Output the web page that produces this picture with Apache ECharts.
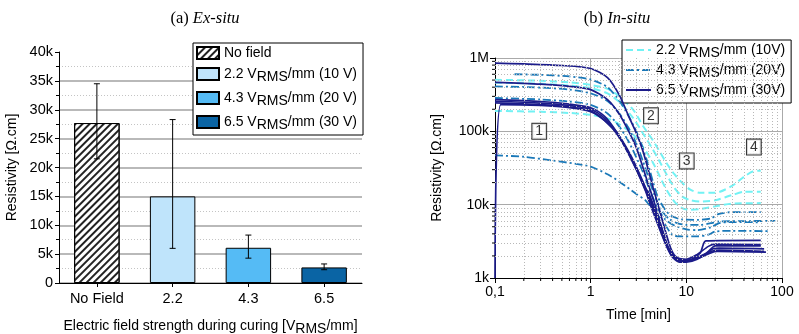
<!DOCTYPE html>
<html><head><meta charset="utf-8">
<script src="https://cdn.jsdelivr.net/npm/echarts@6/dist/echarts.min.js"></script>
<style>html,body{margin:0;padding:0;background:#fff}#c{width:799px;height:334px}</style>
</head><body><div id="c"></div>
<script>
// ---------- Left panel data (Ex-situ) ----------
const barCategories = ['No Field', '2.2', '4.3', '6.5'];
const barSeriesNames = ['No field', '2.2 VRMS/mm (10 V)', '4.3 VRMS/mm (20 V)', '6.5 VRMS/mm (30 V)'];
const barValues = [27700, 15000, 6100, 2700];
const errLow = [21500, 6000, 4300, 2300];
const errHigh = [34500, 28300, 8300, 3300];

// ---------- Right panel data (In-situ), [time min, resistivity ohm.cm] ----------
const curves22 = [
  [[0.1,505000],[0.3,490000],[0.6,465000],[1,430000],[1.5,380000],[2,300000],[2.8,195000],[3.5,120000],[4.45,76000],[5.3,52000],[6.2,37000],[7.5,26000],[9,20000],[11,16000],[14,14500],[20,14500],[30,18000],[40,24000],[50,28500],[60,29000]],
  [[0.1,460000],[0.3,445000],[0.6,420000],[1,390000],[1.5,330000],[2,250000],[2.8,150000],[3.5,95000],[4.45,57000],[5.3,38000],[6.2,26000],[7.5,17000],[9,13000],[11,11500],[14,11000],[20,11500],[30,13500],[40,15000],[60,15000]],
  [[0.1,190000],[0.3,185000],[0.6,178000],[1,168000],[1.5,150000],[2,125000],[2.8,90000],[3.5,62000],[4.45,38000],[5.3,24000],[6.2,16000],[7.5,11000],[9,9000],[11,8500],[14,8700],[20,9500],[30,10300],[60,10500]]
];
const curves43 = [
  [[0.16,600000],[0.3,590000],[0.6,560000],[1,510000],[1.5,400000],[2,260000],[2.5,160000],[3,100000],[3.5,60000],[4,35000],[4.5,20000],[5,13000],[6,8500],[7,7000],[9,6300],[13,6200],[18,6500],[22,7500],[30,7900],[60,7900]],
  [[0.1,410000],[0.3,395000],[0.6,370000],[1,330000],[1.5,260000],[2,175000],[2.5,110000],[3,68000],[3.5,40000],[4,24000],[4.6,14000],[5.3,9000],[6.5,6500],[8,5600],[10,5300],[14,5300],[18,5600],[22,5900],[85,6000]],
  [[0.1,285000],[0.3,272000],[0.6,255000],[1,230000],[1.5,175000],[2,115000],[2.5,72000],[3,44000],[3.6,26000],[4.2,15000],[5,9000],[6,6300],[7.5,5200],[10,4600],[13,4500],[18,4900],[22,5600],[30,5800],[60,5750]],
  [[0.1,47000],[0.2,45000],[0.4,40000],[0.7,36000],[1,33000],[1.5,26000],[2,20600],[3,14000],[3.7,11600],[4.5,8500],[5.7,5900],[7.3,3800],[9,3700],[13,3700],[17,3900],[20,4300],[30,4400],[75,4350]]
];
const curves65 = [
  [[0.1,850000],[0.2,830000],[0.5,790000],[1,720000],[1.5,540000],[2,310000],[2.5,160000],[3,95000],[3.5,55000],[4,30000],[4.5,17000],[5,10500],[6,4500],[7,2400],[8,1900],[10,1800],[13,2100],[17,2700],[20,2900],[60,2850]],
  [[0.1,466000],[0.3,440000],[0.6,410000],[1,370000],[1.5,270000],[2,170000],[2.5,100000],[3,60000],[3.5,33000],[4,19000],[4.6,11000],[5.5,5000],[6.5,2500],[7.5,1900],[9,1700],[11,1750],[14,2200],[16,3200],[60,3250]],
  [[0.1,270000],[0.3,255000],[0.6,235000],[1,210000],[1.4,160000],[1.8,105000],[2.3,60000],[3,30000],[3.7,16000],[4.2,10000],[5,5500],[6,3000],[7,2000],[8.5,1650],[10,1650],[13,1800],[17,2300],[20,2750],[60,2750]],
  [[0.1,257000],[0.3,243000],[0.6,225000],[1,200000],[1.4,150000],[1.9,95000],[2.4,55000],[3.1,28000],[3.8,15000],[4.4,9500],[5.2,5000],[6.2,2800],[7.3,1900],[9,1700],[11,1750],[15,2000],[19,2500],[22,2550],[65,2500]],
  [[0.1,245000],[0.3,232000],[0.6,215000],[1,190000],[1.4,140000],[2,85000],[2.6,48000],[3.3,25000],[4,14000],[4.6,9000],[5.5,4500],[6.5,2500],[8,1800],[10,1750],[13,1900],[18,2300],[22,2400],[65,2300]],
  [[0.1,1000],[0.115,232000],[0.3,225000],[0.6,210000],[1,185000],[1.5,130000],[2,82000],[2.6,46000],[3.3,24000],[3.8,16000],[4,15000],[4.5,10000],[5.5,4800],[6.5,2600],[8,1800],[10,1700],[14,1900],[18,2200],[21,2300],[68,2250]]
];
const lineSeriesNames = ['2.2 VRMS/mm (10V)', '4.3 VRMS/mm (20V)', '6.5 VRMS/mm (30V)'];
const annotLabels = ['1', '2', '3', '4'];
const annotTime = [0.29, 4.27, 10.1, 50.8];
const annotRes = [100000, 163000, 39500, 61000];
const minorTimes = [0.2,0.3,0.4,0.5,0.6,0.7,0.8,0.9,2,3,4,5,6,7,8,9,20,30,40,50,60,70,80,90];
const minorRes = [2000,3000,4000,5000,6000,7000,8000,9000,20000,30000,40000,50000,60000,70000,80000,90000,200000,300000,400000,500000,600000,700000,800000,900000];

// ---------- styling ----------
const SANS = 'Liberation Sans, Arial, sans-serif';
const SERIF = 'Liberation Serif, Times New Roman, serif';
const barColors = ['#ffffff', '#bfe4fb', '#55bbf5', '#0a64a4'];
const lineColors = ['#72f2f4', '#1a78b8', '#1c1c8a'];
const lineTypes = [[7, 4], [8, 3, 2, 3], 'solid'];
const lineWidths = [2, 1.8, 1.7];
const subRich = { s: { fontSize: 14, fontFamily: SANS, color: '#000', padding: [6, 0, 0, 0], verticalAlign: 'bottom' } };
const richName = n => n.replace('VRMS', 'V{s|RMS}');

const series = [];
// bars (stacked so each sits in its own category)
barSeriesNames.forEach((name, i) => {
  const item = { type: 'bar', name, stack: 'b', xAxisIndex: 0, yAxisIndex: 0, barWidth: '60%',
    data: barValues.map((v, j) => j === i ? v : '-'),
    itemStyle: { color: barColors[i], borderColor: '#000', borderWidth: 1 } };
  if (i === 0) item.itemStyle.decal = { symbol: 'rect', symbolSize: 1, dashArrayX: [1, 0], dashArrayY: [1.3, 2.4], rotation: -Math.PI / 4, color: '#222' };
  series.push(item);
});
// error bars
series.push({ type: 'custom', xAxisIndex: 0, yAxisIndex: 0, z: 5, silent: true,
  data: barValues.map((v, i) => [i, errLow[i], errHigh[i]]),
  encode: { x: 0, y: [1, 2] },
  renderItem: (params, api) => {
    const lo = api.coord([api.value(0), api.value(1)]);
    const hi = api.coord([api.value(0), api.value(2)]);
    const w = 3, st = { stroke: '#000', lineWidth: 1 };
    return { type: 'group', children: [
      { type: 'line', shape: { x1: lo[0], y1: lo[1], x2: hi[0], y2: hi[1] }, style: st },
      { type: 'line', shape: { x1: lo[0] - w, y1: lo[1], x2: lo[0] + w, y2: lo[1] }, style: st },
      { type: 'line', shape: { x1: hi[0] - w, y1: hi[1], x2: hi[0] + w, y2: hi[1] }, style: st }
    ] };
  } });
// minor grid on right (dotted) via markLine
series.push({ type: 'line', xAxisIndex: 1, yAxisIndex: 1, data: [], silent: true, z: 1,
  markLine: { silent: true, symbol: 'none', label: { show: false }, animation: false,
    lineStyle: { type: [1, 2], color: '#b8b8b8', width: 1 },
    data: minorTimes.map(v => ({ xAxis: v })).concat(minorRes.map(v => ({ yAxis: v }))) } });
// minor ticks on right axes
series.push({ type: 'custom', xAxisIndex: 1, yAxisIndex: 1, silent: true, clip: false, z: 6,
  data: minorRes.map(v => [0.1, v]),
  renderItem: (params, api) => {
    const p = api.coord([api.value(0), api.value(1)]);
    return { type: 'line', shape: { x1: p[0] - 3, y1: p[1], x2: p[0], y2: p[1] }, style: { stroke: '#000', lineWidth: 1 } };
  } });
series.push({ type: 'custom', xAxisIndex: 1, yAxisIndex: 1, silent: true, clip: false, z: 6,
  data: minorTimes.map(v => [v, 1000]),
  renderItem: (params, api) => {
    const p = api.coord([api.value(0), api.value(1)]);
    return { type: 'line', shape: { x1: p[0], y1: p[1], x2: p[0], y2: p[1] + 3 }, style: { stroke: '#000', lineWidth: 1 } };
  } });
// curves
[curves22, curves43, curves65].forEach((group, g) => {
  group.forEach(pts => series.push({ type: 'line', name: lineSeriesNames[g], xAxisIndex: 1, yAxisIndex: 1,
    data: pts, symbol: 'none', showSymbol: false, smooth: 0.25, z: 2 + g,
    lineStyle: { color: lineColors[g], width: lineWidths[g], type: lineTypes[g] },
    itemStyle: { color: lineColors[g] } }));
});
// boxed annotations
series.push({ type: 'scatter', xAxisIndex: 1, yAxisIndex: 1, symbolSize: 0, z: 10, silent: true,
  data: annotLabels.map((t, i) => ({ value: [annotTime[i], annotRes[i]], label: { formatter: t } })),
  label: { show: true, position: 'inside', fontFamily: SANS, fontSize: 14, color: '#000',
    backgroundColor: '#fff', borderColor: '#000', borderWidth: 1, padding: [1, 3, 0, 3] } });

const titleStyle = { fontFamily: SERIF, fontSize: 16.5, fontWeight: 'normal', color: '#000',
  rich: { i: { fontFamily: SERIF, fontSize: 16.5, fontStyle: 'italic', color: '#000' } } };
const option = {
  animation: false,
  backgroundColor: '#fff',
  title: [
    { text: '(a) {i|Ex-situ}', left: 200, top: 5, textAlign: 'center', textStyle: titleStyle },
    { text: '(b) {i|In-situ}', left: 612, top: 5, textAlign: 'center', textStyle: titleStyle }
  ],
  legend: [
    { data: barSeriesNames, orient: 'vertical', left: 193, top: 43, padding: [3, 6, 3, 3], itemGap: 7,
      itemWidth: 22, itemHeight: 12, icon: 'rect', borderColor: '#000', borderWidth: 1, backgroundColor: '#fff',
      selectedMode: false, formatter: richName,
      textStyle: { fontFamily: SANS, fontSize: 14, color: '#000', rich: subRich } },
    { data: lineSeriesNames, orient: 'vertical', left: 622, top: 40, padding: [3, 6, 3, 3], itemGap: 3,
      itemWidth: 25, itemHeight: 14, borderColor: '#000', borderWidth: 1, backgroundColor: '#fff',
      itemStyle: { opacity: 0 },
      selectedMode: false, formatter: richName,
      textStyle: { fontFamily: SANS, fontSize: 14, color: '#000', rich: subRich } }
  ],
  grid: [
    { left: 59, top: 52, width: 303, height: 231, outerBoundsMode: 'none', containLabel: false },
    { left: 495, top: 58, width: 287, height: 220, outerBoundsMode: 'none', containLabel: false }
  ],
  xAxis: [
    { type: 'category', gridIndex: 0, data: barCategories,
      name: 'Electric field strength during curing [V{s|RMS}/mm]', nameLocation: 'middle', nameGap: 33,
      nameTextStyle: { fontFamily: SANS, fontSize: 14, color: '#000', rich: subRich },
      axisLine: { lineStyle: { color: '#000', width: 1 } },
      axisTick: { show: true, alignWithLabel: true, length: 4, lineStyle: { color: '#000' } },
      axisLabel: { fontFamily: SANS, fontSize: 14.5, color: '#000', margin: 8 } },
    { type: 'log', gridIndex: 1, min: 0.1, max: 100, logBase: 10,
      name: 'Time [min]', nameLocation: 'middle', nameGap: 30,
      nameTextStyle: { fontFamily: SANS, fontSize: 14, color: '#000' },
      axisLine: { show: true, onZero: false, lineStyle: { color: '#000' } },
      axisTick: { show: true, length: 5, lineStyle: { color: '#000' } },
      splitLine: { show: true, lineStyle: { color: '#aaaaaa', width: 1 } },
      axisLabel: { fontFamily: SANS, fontSize: 14, color: '#000', margin: 7,
        formatter: v => { const e = Math.round(Math.log10(v)); return e < 0 ? '0,1' : String(Math.pow(10, e)); } } }
  ],
  yAxis: [
    { type: 'value', gridIndex: 0, min: 0, max: 40000, interval: 5000,
      name: 'Resistivity [Ω.cm]', nameLocation: 'middle', nameGap: 40,
      nameTextStyle: { fontFamily: SANS, fontSize: 14, color: '#000' },
      axisLine: { show: true, lineStyle: { color: '#000' } },
      axisTick: { show: true, length: 4, lineStyle: { color: '#000' } },
      minorTick: { show: true, splitNumber: 2, length: 3, lineStyle: { color: '#000' } },
      splitLine: { show: true, showMaxLine: false, lineStyle: { color: '#b9b9b9', width: 2 } },
      minorSplitLine: { show: true, lineStyle: { color: '#c4c4c4', type: [1, 2], width: 1 } },
      axisLabel: { fontFamily: SANS, fontSize: 14.5, color: '#000', margin: 6,
        formatter: v => v === 0 ? '0' : (v / 1000) + 'k' } },
    { type: 'log', gridIndex: 1, min: 1000, max: 1000000, logBase: 10,
      name: 'Resistivity [Ω.cm]', nameLocation: 'middle', nameGap: 51,
      nameTextStyle: { fontFamily: SANS, fontSize: 14, color: '#000' },
      axisLine: { show: true, onZero: false, lineStyle: { color: '#000' } },
      axisTick: { show: true, length: 5, lineStyle: { color: '#000' } },
      splitLine: { show: true, lineStyle: { color: '#aaaaaa', width: 1 } },
      axisLabel: { fontFamily: SANS, fontSize: 14, color: '#000', margin: 6,
        formatter: v => { const e = Math.round(Math.log10(v)); return e === 6 ? '1M' : (Math.pow(10, e) / 1000) + 'k'; } } }
  ],
  series
};
const chart = echarts.init(document.getElementById('c'), null, { renderer: 'canvas' });
chart.setOption(option);
</script></body></html>
